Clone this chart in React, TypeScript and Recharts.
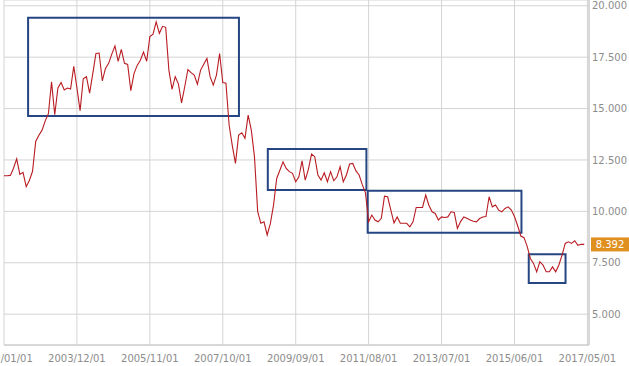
import {
  CartesianGrid,
  Line,
  LineChart,
  ReferenceArea,
  ReferenceLine,
  XAxis,
  YAxis,
} from "recharts";

// monthly closes, first value is 2002/01
const START_YEAR = 2002;

const closes2002to2005 = [
  11.73, 11.73, 11.75, 12.1, 12.55, 11.8, 11.9, 11.2, 11.5, 11.95, 13.4, 13.7,
  13.95, 14.4, 14.75, 16.3, 14.7, 16.0, 16.27, 15.9, 16.0, 15.95, 17.05, 16.0,
  14.9, 16.45, 16.55, 15.75, 16.7, 17.68, 17.7, 16.35, 16.95, 17.2, 17.65, 18.05,
  17.3, 17.88, 17.2, 17.15, 15.87, 16.7, 17.1, 17.35, 17.75, 17.3, 18.5, 18.62,
];

const closes2006to2009 = [
  19.22, 18.66, 19.0, 18.95, 16.87, 15.93, 16.55, 16.2, 15.28, 16.06, 16.9, 16.75,
  16.63, 16.18, 16.87, 17.16, 17.44, 16.55, 16.14, 16.63, 17.68, 16.27, 16.23, 14.2,
  13.2, 12.33, 13.71, 13.82, 13.55, 14.68, 13.95, 12.65, 10.0, 9.42, 9.49, 8.85,
  9.4, 10.3, 11.6, 12.0, 12.41, 12.09, 11.93, 11.85, 11.44, 11.68, 12.46, 11.52,
];

const closes2010to2013 = [
  12.04, 12.79, 12.66, 11.77, 11.52, 11.88, 11.44, 11.93, 11.49, 11.68, 12.17, 11.44,
  11.77, 12.3, 12.33, 11.97, 11.77, 11.3, 10.9, 9.49, 9.82, 9.58, 9.49, 9.66,
  10.74, 10.71, 10.06, 9.44, 9.73, 9.42, 9.42, 9.42, 9.25, 9.49, 10.19, 10.19,
  10.19, 10.79, 10.3, 9.98, 9.9, 9.58, 9.73, 9.7, 9.73, 9.98, 9.95, 9.17,
];

const closes2014to2017 = [
  9.5, 9.73, 9.66, 9.58, 9.52, 9.49, 9.65, 9.73, 9.75, 10.71, 10.22, 10.31,
  10.06, 9.98, 10.14, 10.22, 10.06, 9.75, 9.3, 8.8, 8.72, 8.3, 7.71, 7.47,
  7.06, 7.55, 7.39, 7.06, 7.06, 7.3, 7.06, 7.39, 7.87, 8.44, 8.52, 8.44,
  8.57, 8.35, 8.4, 8.392,
];

const closes = [
  ...closes2002to2005,
  ...closes2006to2009,
  ...closes2010to2013,
  ...closes2014to2017,
];

const xTicks = [0, 23, 46, 69, 92, 115, 138, 161, 184];
const yTicks = [5, 7.5, 10, 12.5, 15, 17.5, 20];

// highlighted ranges: month index from/to, value low/high
const boxes = [
  { from: 7.6, to: 74.1, low: 14.64, high: 19.42 },
  { from: 83.2, to: 114.3, low: 11.04, high: 13.03 },
  { from: 114.7, to: 163.2, low: 8.96, high: 11.0 },
  { from: 165.5, to: 177.1, low: 6.51, high: 7.91 },
];

const lastValue = closes[closes.length - 1];

const data = closes.map((v, i) => ({ m: i, close: v }));

function monthLabel(m: number) {
  const year = START_YEAR + Math.floor(m / 12);
  const month = String((m % 12) + 1).padStart(2, "0");
  return `${year}/${month}/01`;
}

function LastBadge(props: any) {
  const { viewBox } = props;
  if (!viewBox) return null;
  const x = viewBox.x + viewBox.width + 2;
  const y = viewBox.y;
  return (
    <g>
      <rect x={x} y={y - 7} width={38} height={14} fill="#e0901f" />
      <text
        x={x + 19}
        y={y + 4}
        textAnchor="middle"
        fill="#fff"
        fontSize={10}
      >
        {lastValue.toFixed(3)}
      </text>
    </g>
  );
}

export default function App() {
  return (
    <div
      style={{
        position: "absolute",
        left: 0,
        top: 0,
        width: 629,
        height: 366,
        background: "#fff",
        fontFamily: "Verdana, 'DejaVu Sans', sans-serif",
      }}
    >
      <LineChart
        width={629}
        height={366}
        data={data}
        margin={{ top: 0, right: 0, bottom: 0, left: 4 }}
      >
        <CartesianGrid stroke="#d4d4d4" strokeWidth={1} />
        <XAxis
          dataKey="m"
          type="number"
          domain={[0, 184.5]}
          ticks={xTicks}
          interval={0}
          height={21}
          tickFormatter={monthLabel}
          axisLine={{ stroke: "#c8c8c8" }}
          tickLine={false}
          tickMargin={4}
          tick={{ fill: "#8c8c8c", fontSize: 10 }}
        />
        <YAxis
          orientation="right"
          type="number"
          domain={[3.5, 20.28]}
          ticks={yTicks}
          width={40}
          axisLine={{ stroke: "#c8c8c8" }}
          tickLine={false}
          tickSize={3}
          tickMargin={0}
          tickFormatter={(v: number) => v.toFixed(3)}
          tick={{ fill: "#8c8c8c", fontSize: 10 }}
        />
        <Line
          type="linear"
          dataKey="close"
          stroke="#b81c22"
          strokeWidth={1.1}
          dot={false}
          isAnimationActive={false}
        />
        {boxes.map((b, i) => (
          <ReferenceArea
            key={i}
            x1={b.from}
            x2={b.to}
            y1={b.low}
            y2={b.high}
            fill="none"
            stroke="#254682"
            strokeWidth={2}
            ifOverflow="visible"
          />
        ))}
        <ReferenceLine
          y={lastValue}
          stroke="none"
          ifOverflow="visible"
          label={<LastBadge />}
        />
      </LineChart>
    </div>
  );
}
